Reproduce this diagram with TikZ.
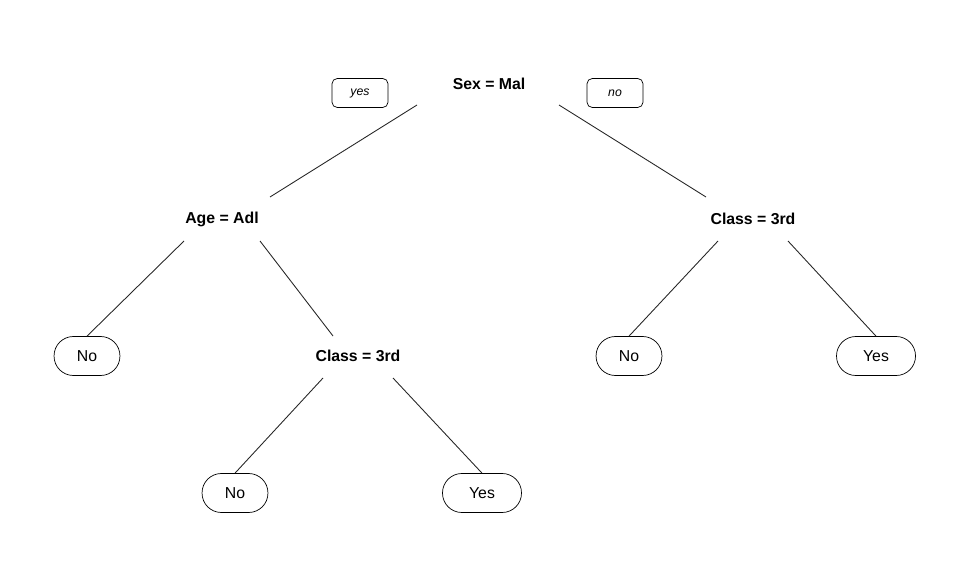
\documentclass[tikz,border=0pt]{standalone}
\usepackage{fontspec}
\setmainfont{Liberation Sans}
\usetikzlibrary{positioning}

\begin{document}
\begin{tikzpicture}[x=0.02cm, y=-0.02cm,
    split/.style={font=\fontsize{9}{11}\selectfont\bfseries, inner sep=0pt},
    leaf/.style={draw, rectangle, rounded corners=11pt, font=\fontsize{9}{11}\selectfont, inner xsep=13pt, minimum height=0.78cm},
    answer/.style={draw, rectangle, rounded corners=3pt, font=\fontsize{7}{9}\selectfont\itshape, minimum width=1.12cm, minimum height=0.58cm},
    edge/.style={draw=black!85, line width=0.5pt}]
        \useasboundingbox (0,0) rectangle (969,574);
        \node[split] (sex) at (489,84) {Sex = Mal};
        \node[answer] (yes) at (360,93) {yes};
        \node[answer] (no) at (615,93) {no};
        \node[split] (age) at (222,219) {Age = Adl};
        \node[split] (classR) at (753,219) {Class = 3rd};
        \node[leaf] (noA) at (87,356) {No};
        \node[split] (classM) at (358,356) {Class = 3rd};
        \node[leaf] (noR) at (629,356) {No};
        \node[leaf, minimum width=1.58cm] (yesR) at (876,356) {Yes};
        \node[leaf] (noM) at (235,493) {No};
        \node[leaf, minimum width=1.58cm] (yesM) at (482,493) {Yes};

        \draw[edge] ([shift={(-72,21)}]sex.center) -- ([shift={(48,-22)}]age.center);
        \draw[edge] ([shift={(70,21)}]sex.center) -- ([shift={(-47,-22)}]classR.center);
        \draw[edge] ([shift={(-38,22)}]age.center) -- (noA.north);
        \draw[edge] ([shift={(38,22)}]age.center) -- ([shift={(-25,-20)}]classM.center);
        \draw[edge] ([shift={(-35,22)}]classR.center) -- (noR.north);
        \draw[edge] ([shift={(35,22)}]classR.center) -- (yesR.north);
        \draw[edge] ([shift={(-35,22)}]classM.center) -- (noM.north);
        \draw[edge] ([shift={(35,22)}]classM.center) -- (yesM.north);
    \end{tikzpicture}
\end{document}
